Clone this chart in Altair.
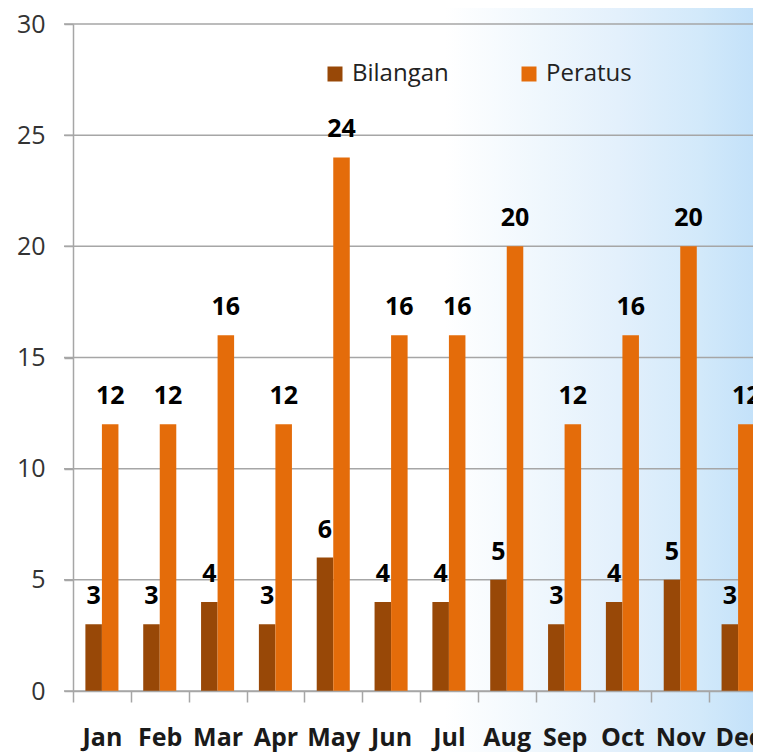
import altair as alt
import pandas as pd

months = ["Jan", "Feb", "Mar", "Apr", "May", "Jun", "Jul", "Aug", "Sep", "Oct", "Nov", "Dec"]
bilangan = [3, 3, 4, 3, 6, 4, 4, 5, 3, 4, 5, 3]
peratus = [12, 12, 16, 12, 24, 16, 16, 20, 12, 16, 20, 12]
series_names = ["Bilangan", "Peratus"]
series_colors = ["#984807", "#E46C0A"]
y_ticks = [0, 5, 10, 15, 20, 25, 30]

rows = []
for m, b, p in zip(months, bilangan, peratus):
    rows.append({"month": m, "series": "Bilangan", "value": b})
    rows.append({"month": m, "series": "Peratus", "value": p})
df = pd.DataFrame(rows)

W = 680
H = 667
FONT = "Open Sans"
GRID = "#A6A6A6"

x_scale = alt.Scale(domain=months, range=[0, 694], paddingInner=0, paddingOuter=0)
off_scale = alt.Scale(domain=series_names, paddingInner=0, paddingOuter=0.75)
y_scale = alt.Scale(domain=[0, 30], nice=False)

x_axis = alt.Axis(title=None, tickBand="extent", tickSize=11, tickColor=GRID, tickWidth=1.5,
                  domainColor=GRID, domainWidth=1.5, labelFont=FONT, labelFontSize=25,
                  labelFontWeight="bold", labelColor="#1a1a1a", labelPadding=23,
                  labelAngle=0, grid=False, zindex=1)
y_axis = alt.Axis(title=None, values=y_ticks, tickSize=9, tickColor=GRID, tickWidth=1.5,
                  domainColor=GRID, domainWidth=1.5, labelFont=FONT, labelFontSize=25,
                  labelColor="#333333", labelPadding=19, grid=False, zindex=1)

grad = alt.LinearGradient(
    gradient="linear",
    stops=[
        alt.GradientStop(offset=0, color="#FFFFFF"),
        alt.GradientStop(offset=0.58, color="#FFFFFF"),
        alt.GradientStop(offset=0.71, color="#EFF7FD"),
        alt.GradientStop(offset=0.81, color="#E3F0FC"),
        alt.GradientStop(offset=0.92, color="#D2E9FA"),
        alt.GradientStop(offset=1.0, color="#C1E0F9"),
    ],
    x1=0, x2=1, y1=0, y2=0,
)

bg = alt.Chart(alt.Data(values=[{"a": 1}])).mark_rect(fill=grad, clip=False).encode(
    x=alt.value(-65), x2=alt.value(W + 8), y=alt.value(-16), y2=alt.value(H + 61)
)

grid = alt.Chart(pd.DataFrame({"v": y_ticks})).mark_rule(color=GRID, strokeWidth=1.5).encode(
    y=alt.Y("v:Q", scale=y_scale, axis=y_axis),
    x=alt.value(-9),
    x2=alt.value(W + 20),
)

bars = alt.Chart(df).mark_bar(opacity=1).encode(
    x=alt.X("month:N", sort=months, scale=x_scale, axis=x_axis),
    xOffset=alt.XOffset("series:N", sort=series_names, scale=off_scale),
    y=alt.Y("value:Q", scale=y_scale, axis=y_axis),
    color=alt.Color(
        "series:N",
        scale=alt.Scale(domain=series_names, range=series_colors),
        legend=alt.Legend(
            orient="none", legendX=250, legendY=38, direction="horizontal", title=None,
            symbolType="square", symbolSize=225, symbolStrokeWidth=0, symbolOpacity=1,
            labelFont=FONT, labelFontSize=24, labelColor="#222222",
            columnPadding=68, labelOffset=5, padding=0,
        ),
    ),
)

text = alt.Chart(df).mark_text(
    font=FONT, fontSize=25, fontWeight="bold", dy=-20, baseline="alphabetic", color="#000000"
).encode(
    x=alt.X("month:N", sort=months, scale=x_scale, axis=x_axis),
    xOffset=alt.XOffset("series:N", sort=series_names, scale=off_scale),
    y=alt.Y("value:Q", scale=y_scale, axis=y_axis),
    text="value:Q",
)

chart = alt.layer(bg, grid, bars, text).properties(
    width=W,
    height=H,
    autosize=alt.AutoSizeParams(type="none"),
    padding={"left": 65, "top": 16, "right": 0, "bottom": 61},
).configure_view(stroke=None)

chart.save("out.html", embed_options={"renderer": "svg", "actions": False})
